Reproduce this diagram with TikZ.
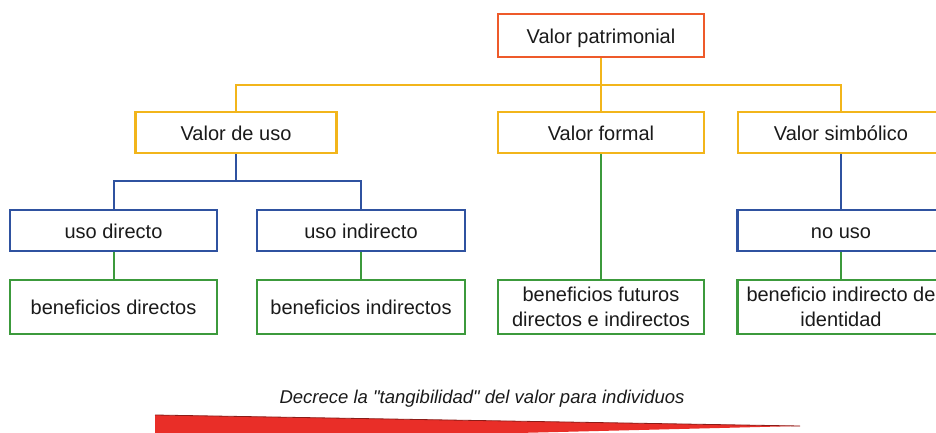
\documentclass[tikz,border=0pt]{standalone}
\usepackage{fontspec}
\setmainfont{Liberation Sans}
\newfontfamily\recta{Liberation Sans}[Ligatures=TeXOff]
\usepackage{tikz}
\definecolor{patrimonio}{HTML}{EE5A2A}
\definecolor{amarillo}{HTML}{F2B51B}
\definecolor{azul}{HTML}{2F52A0}
\definecolor{verde}{HTML}{3C9A3C}
\definecolor{cuna}{HTML}{E92E28}
\definecolor{texto}{HTML}{1A1A1A}

\begin{document}
\begin{tikzpicture}[x=1pt,y=-1pt,
  caja/.style={draw,line width=2.4pt,fill=white,text=texto,align=center,
    inner sep=0pt,font=\fontsize{20}{25}\selectfont},
  linea/.style={text height=17.5pt,text depth=1.6pt},
  raiz/.style={caja,linea,draw=patrimonio,minimum width=206pt,minimum height=43pt},
  valor/.style={caja,linea,draw=amarillo,minimum height=41pt},
  uso/.style={caja,linea,draw=azul,minimum width=207pt,minimum height=41pt},
  beneficio/.style={caja,draw=verde,minimum width=207pt,minimum height=54pt},
  lamarilla/.style={amarillo,line width=2pt},
  lazul/.style={azul,line width=2pt},
  lverde/.style={verde,line width=2pt}]
  \useasboundingbox (0,0) rectangle (936,433);
  \clip (0,0) rectangle (936,433);
  \node[raiz] (vp) at (601,35.5) {Valor patrimonial};
  \node[valor,minimum width=201pt] (vu) at (236,132.5) {Valor de uso};
  \node[valor,minimum width=206pt] (vf) at (601,132.5) {Valor formal};
  \node[valor,minimum width=206pt] (vs) at (841,132.5) {Valor simbólico};
  \node[uso] (ud) at (113.5,230.5) {uso directo};
  \node[uso,minimum width=208pt] (ui) at (361,230.5) {uso indirecto};
  \node[uso] (nu) at (841,230.5) {no uso};
  \node[beneficio,linea] (bd) at (113.5,307) {beneficios directos};
  \node[beneficio,linea,minimum width=208pt] (bi) at (361,307) {beneficios indirectos};
  \node[beneficio,minimum width=206pt] (bf) at (601,307) {beneficios futuros\\directos e indirectos};
  \node[beneficio] (bs) at (841,307) {beneficio indirecto de\\identidad};
  \coordinate (yj) at (601,85);
  \coordinate (bj) at (236,181);
  \draw[lamarilla] (vp.south) -- (vf.north);
  \draw[lamarilla] (vu.north) |- (yj) -| (vs.north);
  \draw[lazul] (vu.south) -- (bj);
  \draw[lazul] (ud.north) |- (bj) -| (ui.north);
  \draw[lazul] (vs.south) -- (nu.north);
  \draw[lverde] (ud.south) -- (bd.north);
  \draw[lverde] (ui.south) -- (bi.north);
  \draw[lverde] (vf.south) -- (bf.north);
  \draw[lverde] (nu.south) -- (bs.north);
  \node[text=texto,font=\recta\fontsize{18.5}{22}\selectfont\itshape] (tg) at (482,399)
    {Decrece la "tangibilidad" del valor para individuos};
  \fill[cuna] (155,415) -- (800,426) -- (155,442) -- cycle;
  \draw[cuna!60!black,line width=0.8pt] (155,415) -- (800,426);
\end{tikzpicture}
\end{document}
